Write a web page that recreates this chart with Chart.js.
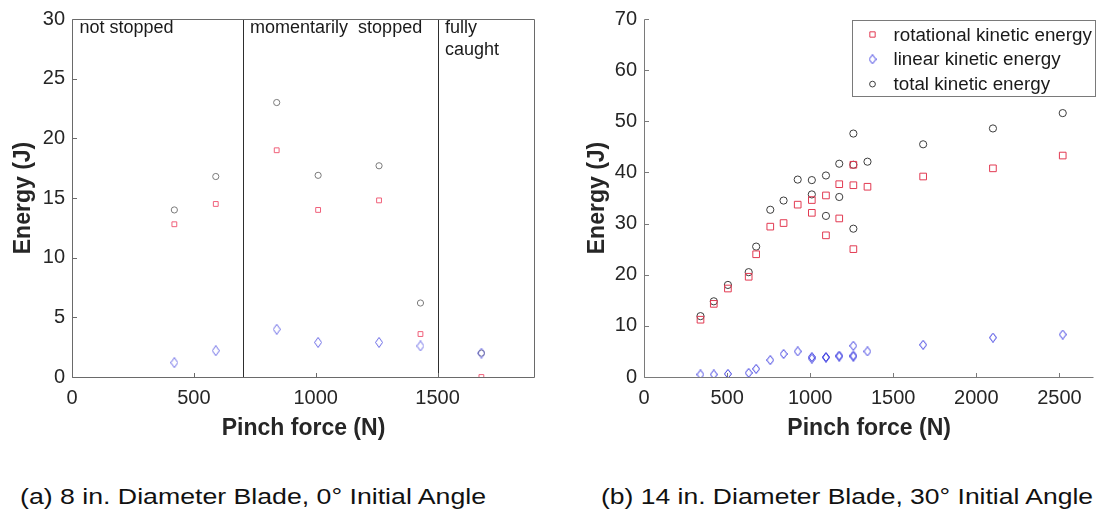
<!DOCTYPE html>
<html><head><meta charset="utf-8">
<script src="https://cdn.jsdelivr.net/npm/chart.js@4.4.1/dist/chart.umd.min.js"></script>
<style>
html,body{margin:0;padding:0;background:#fff;width:1100px;height:518px;overflow:hidden;}
.wrap{position:absolute;top:0;}
.cap{position:absolute;top:487px;font-family:'Liberation Sans',Arial,sans-serif;font-size:21.5px;line-height:1;color:#111;white-space:nowrap;transform-origin:0 0;}
</style></head><body>
<div class="wrap" style="left:0;width:560px;height:450px"><canvas id="ca" width="560" height="450"></canvas></div>
<div class="wrap" style="left:580px;width:520px;height:450px"><canvas id="cb" width="520" height="450"></canvas></div>
<div class="cap" id="capA" style="left:20px">(a) 8 in. Diameter Blade, 0° Initial Angle</div>
<div class="cap" id="capB" style="left:601px">(b) 14 in. Diameter Blade, 30° Initial Angle</div>
<script>
// ---------- data: panel (a) ----------
const forceA = [420, 590, 840, 1010, 1260, 1430, 1680];
const rotA   = [12.8, 14.5, 19.0, 14.0, 14.8, 3.6, 0.0];
const linA   = [1.2, 2.2, 4.0, 2.9, 2.9, 2.6, 2.0];
const totA   = [14.0, 16.8, 23.0, 16.9, 17.7, 6.2, 2.0];
const separatorsA = [700, 1500];
const regionLabelsA = [["not stopped"], ["momentarily  stopped"], ["fully", "caught"]];
const xTicksA = [0, 500, 1000, 1500];
const yTicksA = [0, 5, 10, 15, 20, 25, 30];

// ---------- data: panel (b) ----------
const forceB = [340, 420, 505, 630, 675, 760, 840, 925, 1010, 1010, 1095, 1095, 1175, 1175, 1260, 1260, 1260, 1345, 1680, 2100, 2520];
const rotB   = [11.2, 14.3, 17.3, 19.6, 24.0, 29.4, 30.1, 33.7, 34.6, 32.1, 35.5, 27.7, 37.7, 31.0, 41.5, 37.5, 25.0, 37.2, 39.2, 40.8, 43.3];
const linB   = [0.5, 0.5, 0.6, 0.8, 1.6, 3.3, 4.5, 5.0, 3.9, 3.6, 3.9, 3.8, 4.0, 4.2, 6.1, 4.0, 4.2, 5.0, 6.3, 7.7, 8.3];
const totB   = [11.9, 14.8, 18.0, 20.5, 25.5, 32.7, 34.5, 38.6, 38.5, 35.7, 39.4, 31.5, 41.7, 35.2, 47.6, 41.5, 29.0, 42.1, 45.5, 48.6, 51.6];
const xTicksB = [0, 500, 1000, 1500, 2000, 2500];
const yTicksB = [0, 10, 20, 30, 40, 50, 60, 70];

const seriesNames = ["rotational kinetic energy", "linear kinetic energy", "total kinetic energy"];
const captions = ["(a) 8 in. Diameter Blade, 0° Initial Angle", "(b) 14 in. Diameter Blade, 30° Initial Angle"];

// ---------- setup ----------
const FONT = "'Liberation Sans', Arial, Helvetica, sans-serif";
Chart.defaults.font.family = FONT;
Chart.defaults.color = '#262626';

function makeDiamond(color, w, h) {
  const c = document.createElement('canvas');
  c.width = w; c.height = h;
  const g = c.getContext('2d');
  g.strokeStyle = color; g.lineWidth = 1;
  g.beginPath();
  g.moveTo(w / 2, 0.5); g.lineTo(w - 0.5, h / 2); g.lineTo(w / 2, h - 0.5); g.lineTo(0.5, h / 2); g.closePath();
  g.stroke();
  return c;
}

function pts(xs, ys) { return xs.map((x, i) => ({x: x, y: ys[i]})); }

function ds(label, xs, ys, color, style, r) {
  return {label: label, data: pts(xs, ys), borderColor: color, backgroundColor: 'rgba(0,0,0,0)',
    borderWidth: 1, pointStyle: style, pointRadius: r, pointHoverRadius: r, showLine: false};
}

function framePlugin(o) {
  return {
    id: 'frame',
    beforeDatasetsDraw(chart) {
      const ctx = chart.ctx, a = chart.chartArea, x = chart.scales.x, y = chart.scales.y;
      ctx.save();
      ctx.lineWidth = 1;
      // separators
      ctx.strokeStyle = o.sepColor || '#333';
      ctx.beginPath();
      (o.separators || []).forEach(v => {
        const px = Math.round(x.getPixelForValue(v)) + 0.5;
        ctx.moveTo(px, a.top); ctx.lineTo(px, a.bottom + 1);
      });
      ctx.stroke();
      // axes
      ctx.strokeStyle = o.axisColor;
      ctx.beginPath();
      const L = Math.round(a.left) + 0.5, B = Math.round(a.bottom) + 0.5, T = Math.round(a.top) + 0.5, R = Math.round(a.right) - 0.5;
      ctx.moveTo(L, T); ctx.lineTo(L, B); ctx.lineTo(R, B);
      if (o.box) { ctx.lineTo(R, T); ctx.lineTo(L, T); }
      x.ticks.forEach(t => {
        const px = Math.round(x.getPixelForValue(t.value)) + 0.5;
        ctx.moveTo(px, B); ctx.lineTo(px, B - 4.5);
      });
      y.ticks.forEach(t => {
        const py = Math.round(y.getPixelForValue(t.value)) + 0.5;
        ctx.moveTo(L, py); ctx.lineTo(L + 4.5, py);
      });
      ctx.stroke();
      ctx.restore();
    },
    afterDraw(chart) {
      const ctx = chart.ctx, a = chart.chartArea, x = chart.scales.x;
      ctx.save();
      if (o.regionLabels) {
        ctx.font = '18px ' + FONT;
        ctx.fillStyle = '#1a1a1a';
        ctx.textBaseline = 'alphabetic';
        const starts = [a.left].concat(o.separators.map(v => x.getPixelForValue(v)));
        o.regionLabels.forEach((lines, i) => {
          lines.forEach((t, j) => ctx.fillText(t, starts[i] + 7.5, 32.5 + j * 22));
        });
      }
      if (o.legend) {
        const lg = o.legend;
        ctx.fillStyle = '#fff';
        ctx.fillRect(lg.x, lg.y, lg.w, lg.h);
        ctx.strokeStyle = '#7a7a7a'; ctx.lineWidth = 1;
        ctx.strokeRect(lg.x + 0.5, lg.y + 0.5, lg.w, lg.h);
        ctx.font = '18.8px ' + FONT;
        ctx.textBaseline = 'middle';
        chart.data.datasets.forEach((d, i) => {
          const cy = lg.y + 14.5 + i * 24.8;
          ctx.strokeStyle = d.borderColor; ctx.fillStyle = 'rgba(0,0,0,0)'; ctx.lineWidth = 1;
          Chart.helpers.drawPoint(ctx, {pointStyle: d.pointStyle, radius: d.pointRadius * 0.8, rotation: 0, borderWidth: 1}, lg.x + 20.5, cy);
          ctx.fillStyle = '#1a1a1a';
          ctx.fillText(d.label, lg.x + 41.5, cy + 1);
        });
      }
      ctx.restore();
    }
  };
}

function makeChart(id, cfg) {
  return new Chart(document.getElementById(id), {
    type: 'scatter',
    data: {datasets: cfg.datasets},
    options: {
      responsive: false, animation: false, devicePixelRatio: 1, events: [],
      layout: {padding: {top: 15, right: cfg.padRight, bottom: 0, left: 0}},
      plugins: {legend: {display: false}, tooltip: {enabled: false}},
      scales: {
        x: {
          type: 'linear', min: 0, max: cfg.xMax,
          afterBuildTicks: s => { s.ticks = cfg.xTicks.map(v => ({value: v})); },
          afterFit: s => { s.height = 73; },
          grid: {display: false, drawTicks: false}, border: {display: false},
          ticks: {font: {size: 20}, color: '#262626', padding: 9, maxRotation: 0, autoSkip: false, callback: v => String(v)},
          title: {display: true, text: 'Pinch force (N)', font: {size: 23, weight: 'bold'}, color: '#262626', padding: {top: 0, bottom: 8}}
        },
        y: {
          type: 'linear', min: 0, max: cfg.yMax,
          afterBuildTicks: s => { s.ticks = cfg.yTicks.map(v => ({value: v})); },
          afterFit: s => { s.width = cfg.yWidth; },
          grid: {display: false, drawTicks: false}, border: {display: false},
          ticks: {font: {size: 20}, color: '#262626', padding: 7, autoSkip: false, callback: v => String(v)},
          title: {display: true, text: 'Energy (J)', font: {size: 23, weight: 'bold'}, color: '#262626', padding: {top: cfg.yTitlePad, bottom: 0}}
        }
      }
    },
    plugins: [framePlugin(cfg.frame)]
  });
}

// panel (a)
makeChart('ca', {
  xMax: 1900, yMax: 30, xTicks: xTicksA, yTicks: yTicksA, yWidth: 72, padRight: 25, yTitlePad: 9.5,
  datasets: [
    ds(seriesNames[0], forceA, rotA, '#f0607a', 'rect', 3.4),
    ds(seriesNames[1], forceA, linA, '#6a6ae6', makeDiamond('#6a6ae6', 8, 11), 4),
    ds(seriesNames[2], forceA, totA, '#7a7a7a', 'circle', 3.1)
  ],
  frame: {box: true, axisColor: '#6a6a6a', sepColor: '#2e2e2e', separators: separatorsA, regionLabels: regionLabelsA}
});

// panel (b)
makeChart('cb', {
  xMax: 2710, yMax: 70, xTicks: xTicksB, yTicks: yTicksB, yWidth: 64, padRight: 1, yTitlePad: 4,
  datasets: [
    ds(seriesNames[0], forceB, rotB, '#e23a52', 'rect', 4.7),
    ds(seriesNames[1], forceB, linB, '#3a3ae0', makeDiamond('#3a3ae0', 8, 10), 4),
    ds(seriesNames[2], forceB, totB, '#3c3c3c', 'circle', 3.6)
  ],
  frame: {box: false, axisColor: '#7a7a7a', separators: [], legend: {x: 272, y: 20, w: 243, h: 76}}
});

// captions
const capTargets = [466, 492];
['capA', 'capB'].forEach((id, i) => {
  const el = document.getElementById(id);
  el.textContent = captions[i];
  const w = el.getBoundingClientRect().width;
  el.style.transform = 'scaleX(' + (capTargets[i] / w) + ')';
});
</script>
</body></html>
